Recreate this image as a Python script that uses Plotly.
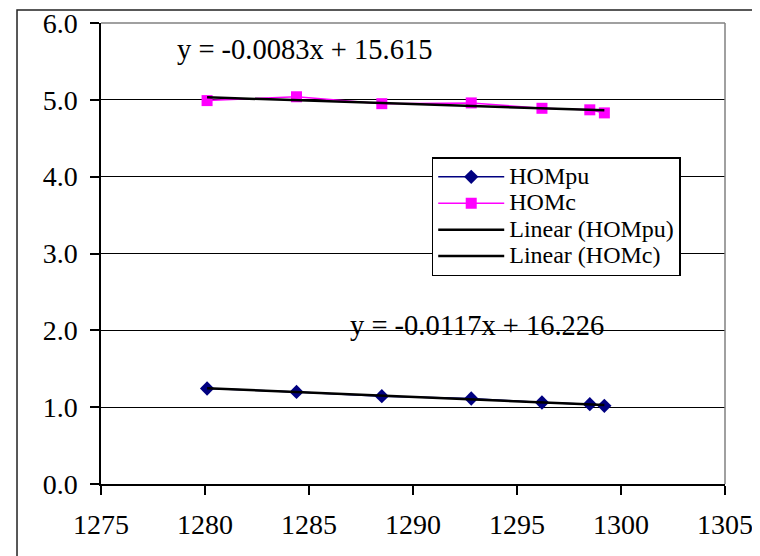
import numpy as np
import plotly.graph_objects as go

# Data
x_vals = [1280.1, 1284.4, 1288.5, 1292.8, 1296.2, 1298.5, 1299.2]
hompu = [1.243, 1.199, 1.143, 1.113, 1.061, 1.039, 1.017]
homc = [4.99, 5.04, 4.95, 4.96, 4.89, 4.87, 4.83]

series_names = ["HOMpu", "HOMc", "Linear (HOMpu)", "Linear (HOMc)"]
eq_pu = "y = -0.0117x + 16.226"
eq_c = "y = -0.0083x + 15.615"

x_ticks = [1275, 1280, 1285, 1290, 1295, 1300, 1305]
y_ticks = [0, 1, 2, 3, 4, 5, 6]

FONT = "Liberation Serif, Times New Roman, serif"
LEG_TXT = 24


def leg_name(s):
    return '<span style="font-size:%dpx">%s</span>' % (LEG_TXT, s)


# Linear trendlines derived from the data
xa = np.array(x_vals)
p_pu = np.polyfit(xa, np.array(hompu), 1)
p_c = np.polyfit(xa, np.array(homc), 1)
x_fit = [xa.min(), xa.max()]

fig = go.Figure()
fig.add_trace(go.Scatter(x=x_vals, y=hompu, mode="lines+markers", name=leg_name(series_names[0]),
                         line=dict(color="#000080", width=1.5),
                         marker=dict(symbol="diamond", size=11, color="#000080")))
fig.add_trace(go.Scatter(x=x_vals, y=homc, mode="lines+markers", name=leg_name(series_names[1]),
                         line=dict(color="#FF00FF", width=1.5),
                         marker=dict(symbol="square", size=11, color="#FF00FF")))
fig.add_trace(go.Scatter(x=x_fit, y=list(np.polyval(p_pu, x_fit)), mode="lines",
                         name=leg_name(series_names[2]),
                         line=dict(color="black", width=2.5)))
fig.add_trace(go.Scatter(x=x_fit, y=list(np.polyval(p_c, x_fit)), mode="lines",
                         name=leg_name(series_names[3]),
                         line=dict(color="black", width=2.5)))

fig.add_annotation(x=1278.56, y=5.66, text=eq_c, showarrow=False, xanchor="left", yanchor="middle",
                   font=dict(family=FONT, size=28.5, color="black"))
fig.add_annotation(x=1286.87, y=2.06, text=eq_pu, showarrow=False, xanchor="left", yanchor="middle",
                   font=dict(family=FONT, size=28.5, color="black"))

# plot area border (top & right grey)
fig.add_shape(type="line", xref="paper", yref="paper", x0=0, x1=1, y0=1, y1=1,
              line=dict(color="#808080", width=1.5), layer="above")
fig.add_shape(type="line", xref="paper", yref="paper", x0=1, x1=1, y0=0, y1=1,
              line=dict(color="#808080", width=1.5), layer="above")
# outer chart border
fig.add_shape(type="rect", xref="paper", yref="paper", x0=-0.1346, x1=1.1, y0=-0.25, y1=1.0282,
              line=dict(color="#222222", width=1.5), layer="below")

fig.update_layout(
    width=760, height=556,
    margin=dict(l=93, r=43, t=15, b=80, autoexpand=False),
    paper_bgcolor="white", plot_bgcolor="white",
    font=dict(family=FONT, size=26, color="black"),
    showlegend=True,
    legend=dict(x=0.530, y=0.709, xanchor="left", yanchor="top",
                bgcolor="white", bordercolor="black", borderwidth=1.5,
                font=dict(family=FONT, size=18, color="black"),
                itemwidth=66, tracegroupgap=0),
    xaxis=dict(range=[1275, 1305], tickvals=x_ticks, ticktext=[str(v) for v in x_ticks],
               showgrid=False, zeroline=False, showline=True, linecolor="black", linewidth=1.5,
               ticks="outside", ticklen=9, tickwidth=1.5, tickcolor="black", automargin=False,
               ticklabeloverflow="allow",
               tickfont=dict(family=FONT, size=28, color="black"), ticklabelstandoff=6),
    yaxis=dict(range=[0, 6], tickvals=y_ticks, ticktext=["%.1f" % v for v in y_ticks],
               showgrid=True, gridcolor="black", gridwidth=1.2, zeroline=False,
               showline=True, linecolor="black", linewidth=1.5, automargin=False,
               ticklabeloverflow="allow",
               ticks="outside", ticklen=9, tickwidth=1.5, tickcolor="black",
               tickfont=dict(family=FONT, size=28, color="black"), ticklabelstandoff=7),
)

fig.write_html("out.html")
